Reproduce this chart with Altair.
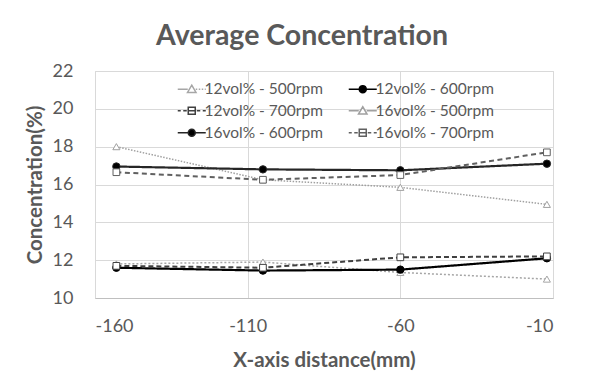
import altair as alt
import pandas as pd

# ---- data ----
x_positions = [-153, -105, -60, -12]
series_names = [
    "12vol% - 500rpm", "12vol% - 600rpm",
    "12vol% - 700rpm", "16vol% - 500rpm",
    "16vol% - 600rpm", "16vol% - 700rpm",
]
rpm_of_series = [500, 600, 700, 500, 600, 700]
y_12_500 = [11.8, 11.9, 11.35, 11.0]
y_12_600 = [11.6, 11.45, 11.5, 12.1]
y_12_700 = [11.7, 11.6, 12.15, 12.2]
y_16_500 = [18.0, 16.25, 15.85, 14.95]
y_16_600 = [16.95, 16.8, 16.75, 17.1]
y_16_700 = [16.65, 16.25, 16.5, 17.7]
all_values = [y_12_500, y_12_600, y_12_700, y_16_500, y_16_600, y_16_700]

x_ticks = [-160, -110, -60, -10]
y_ticks = [10, 12, 14, 16, 18, 20, 22]

# ---- styling ----
stroke_colors = ["#a6a6a6", "#000000", "#404040", "#a0a0a0", "#262626", "#606060"]
dashes = [[2, 2], [1, 0], [5, 3], [1.5, 1.5], [1, 0], [5, 3.5]]
fills = ["white", "black", "white", "white", "black", "white"]
line_widths = [1.5, 2.2, 2, 1.5, 2.2, 2]
marker_shapes = ["triangle-up", "circle", "square", "triangle-up", "circle", "square"]
marker_sizes = [50, 55, 45, 50, 55, 45]

CIRC = "M-2.8,0H-0.7M0.7,0H2.8M-0.7,0A0.7,0.7,0,1,0,0.7,0A0.7,0.7,0,1,0,-0.7,0Z"
TRI_DOT = "M-2.8,0H-0.8M0.8,0H1.1M1.4,0H1.7M2.0,0H2.3M2.6,0H2.8M0,-0.8L0.85,0.65H-0.85Z"
TRI_SOL = "M-2.8,0H-0.8M0.8,0H2.8M0,-0.8L0.85,0.65H-0.85Z"
SQ_DASH = "M-2.8,0H-2.2M-1.7,0H-1.0M1.0,0H1.7M2.2,0H2.8M-0.7,-0.7H0.7V0.7H-0.7ZM-0.7,0H0.7"
legend_shapes = [TRI_DOT, CIRC, SQ_DASH, TRI_SOL, CIRC, SQ_DASH]

rows = []
for name, rpm, vals in zip(series_names, rpm_of_series, all_values):
    for xv, yv in zip(x_positions, vals):
        rows.append({"series": name, "rpm": rpm, "x": xv, "y": yv})
df = pd.DataFrame(rows)

FONT = "Lato"
GRAY = "#595959"

# Vega fills legend columns first; this order gives the row-wise reading of the reference
legend_order = [0, 2, 4, 1, 3, 5]
leg_domain = [series_names[i] for i in legend_order]
leg_shapes = [legend_shapes[i] for i in legend_order]
leg_fills = [fills[i] for i in legend_order]
leg_strokes = [stroke_colors[i] for i in legend_order]

x_enc = alt.X("x:Q", scale=alt.Scale(domain=[-160, -10], nice=False, zero=False),
              axis=alt.Axis(values=x_ticks, title="X-axis distance(mm)", ticks=False,
                            labelExpr="'' + datum.value",
                            labelPadding=19, titlePadding=15, domainColor="#bfbfbf",
                            gridColor="#d9d9d9", labelOverlap=False))
y_enc = alt.Y("y:Q", scale=alt.Scale(domain=[10, 22], nice=False, zero=False),
              axis=alt.Axis(values=y_ticks, title="Concentration(%)", ticks=False,
                            domain=False, labelPadding=22, titlePadding=7,
                            gridColor="#d9d9d9", labelOverlap=False))

base = alt.Chart(df)

line_layers = []
point_layers = []
for i, name in enumerate(series_names):
    sub = base.transform_filter(alt.datum.series == name)
    line_layers.append(
        sub.mark_line(color=stroke_colors[i], strokeDash=dashes[i],
                      strokeWidth=line_widths[i]).encode(x=x_enc, y=y_enc)
    )
    point_layers.append(
        sub.mark_point(shape=marker_shapes[i], filled=True, fill=fills[i],
                       stroke=stroke_colors[i], strokeWidth=1, size=marker_sizes[i],
                       opacity=1).encode(x=x_enc, y=y_enc)
    )

leg = alt.Legend(
    title=None, orient="none", legendX=89, legendY=10, columns=2,
    symbolSize=100, symbolStrokeWidth=1.5, symbolOpacity=1,
    labelFont=FONT, labelFontSize=15.5, labelColor=GRAY, labelOffset=5,
    rowPadding=5, columnPadding=22, labelLimit=300,
)

# legend-only layer: no visible marks, scales have explicit domains
legend_layer = base.transform_filter("datum.rpm < 0").mark_point(filled=True, opacity=1).encode(
    x=x_enc, y=y_enc,
    shape=alt.Shape("series:N", scale=alt.Scale(domain=leg_domain, range=leg_shapes), legend=leg),
    fill=alt.Fill("series:N", scale=alt.Scale(domain=leg_domain, range=leg_fills), legend=leg),
    stroke=alt.Stroke("series:N", scale=alt.Scale(domain=leg_domain, range=leg_strokes), legend=leg),
)

chart = alt.layer(*line_layers, *point_layers, legend_layer).properties(
    width=458, height=227,
    background="white",
    autosize=alt.AutoSizeParams(type="none"),
    padding={"left": 95, "top": 71, "right": 52, "bottom": 84},
    title=alt.TitleParams("Average Concentration", font=FONT, fontSize=28.5, fontWeight="bold",
                          color=GRAY, anchor="middle", frame="group", dx=-22, offset=12),
).configure_view(stroke="#d9d9d9").configure_axis(
    labelFont=FONT, labelFontSize=18, labelColor=GRAY,
    titleFont=FONT, titleFontSize=20.5, titleFontWeight="bold", titleColor=GRAY,
)

chart.save("out.html", embed_options={"renderer": "svg", "actions": False})
